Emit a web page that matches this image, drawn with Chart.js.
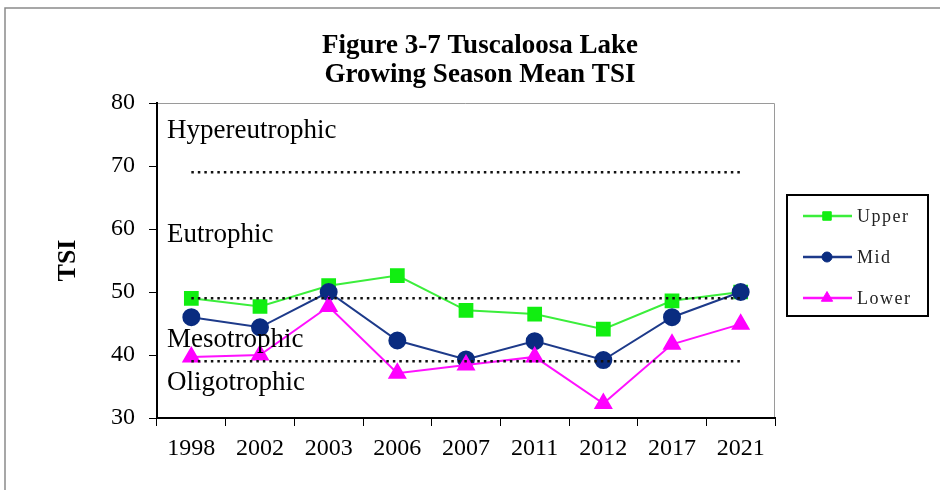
<!DOCTYPE html>
<html>
<head>
<meta charset="utf-8">
<script src="https://cdn.jsdelivr.net/npm/chart.js@4.4.0/dist/chart.umd.min.js"></script>
<style>
  html, body { margin: 0; padding: 0; background: #ffffff; }
  #wrap { width: 940px; height: 490px; }
</style>
</head>
<body>
<div id="wrap"><canvas id="tsiChart" width="940" height="490"></canvas></div>
<script>
// ===========================
// DATA
// ===========================

const years = ['1998', '2002', '2003', '2006', '2007', '2011', '2012', '2017', '2021'];
const upper = [49.0, 47.7, 51.0, 52.6, 47.1, 46.5, 44.1, 48.6, 50.0];
const mid = [46.0, 44.4, 50.0, 42.3, 39.3, 42.2, 39.2, 46.0, 50.0];
const lower = [39.7, 40.0, 47.7, 37.1, 38.4, 39.7, 32.3, 41.7, 44.9];

// trophic state boundaries (dotted lines)
const hyperBound = [69, 69, 69, 69, 69, 69, 69, 69, 69];
const eutroBound = [49, 49, 49, 49, 49, 49, 49, 49, 49];
const mesoBound = [39, 39, 39, 39, 39, 39, 39, 39, 39];

const yTicks = [30, 40, 50, 60, 70, 80];
const zoneLabels = ['Hypereutrophic', 'Eutrophic', 'Mesotrophic', 'Oligotrophic'];
// baseline of each zone label, in TSI units
const zoneLabelValues = [74.4, 57.9, 41.3, 34.4];
const titleLines = ['Figure 3-7 Tuscaloosa Lake', 'Growing Season Mean TSI'];

const SERIF = '"Liberation Serif", "Times New Roman", serif';

// ===========================
// DRAWING EXTRAS
// ===========================

const extrasPlugin = {
    id: 'extras',
    beforeDraw(chart) {
        const c = chart.ctx;
        c.save();
        c.fillStyle = '#ffffff';
        c.fillRect(0, 0, chart.width, chart.height);
        // outer frame
        c.strokeStyle = '#8a8a8a';
        c.lineWidth = 1.5;
        c.beginPath();
        c.moveTo(5, chart.height + 2);
        c.lineTo(5, 8);
        c.lineTo(chart.width + 2, 8);
        c.stroke();
        // plot frame (top + right)
        const a = chart.chartArea;
        c.strokeStyle = '#9a9a9a';
        c.lineWidth = 1;
        c.beginPath();
        c.moveTo(a.left, a.top + 0.5);
        c.lineTo(a.right - 0.5, a.top + 0.5);
        c.lineTo(a.right - 0.5, a.bottom);
        c.stroke();
        c.restore();
    },
    afterDraw(chart) {
        const c = chart.ctx;
        const a = chart.chartArea;
        const yScale = chart.scales.y;
        c.save();

        // title
        c.fillStyle = '#000';
        c.textAlign = 'center';
        c.textBaseline = 'alphabetic';
        c.font = 'bold 27px ' + SERIF;
        c.fillText(titleLines[0], 480, 53);
        c.fillText(titleLines[1], 480, 82);

        // zone labels
        c.textAlign = 'left';
        c.font = '27px ' + SERIF;
        zoneLabels.forEach((txt, i) => {
            c.fillText(txt, a.left + 10, yScale.getPixelForValue(zoneLabelValues[i]));
        });

        // legend
        const lx = 787, ly = 195, lw = 141, lh = 121;
        c.strokeStyle = '#000';
        c.lineWidth = 2;
        c.strokeRect(lx, ly, lw, lh);
        const rows = [216, 257, 298];
        const radii = [6, 5, 6.5];
        c.font = '18px ' + SERIF;
        c.textBaseline = 'middle';
        if ('letterSpacing' in c) c.letterSpacing = '1.5px';
        chart.data.datasets.slice(0, 3).forEach((ds, i) => {
            const y = rows[i];
            c.strokeStyle = ds.borderColor;
            c.lineWidth = 2.5;
            c.beginPath();
            c.moveTo(803, y);
            c.lineTo(852, y);
            c.stroke();
            c.fillStyle = ds.pointBackgroundColor;
            c.strokeStyle = ds.pointBorderColor;
            c.lineWidth = 1;
            Chart.helpers.drawPoint(c, { pointStyle: ds.pointStyle, radius: radii[i], borderWidth: 1, rotation: 0 }, 827, y);
            c.fillStyle = '#222';
            c.fillText(ds.label, 857, y + 1);
        });
        c.restore();
    }
};

// ===========================
// CHART
// ===========================

function dotted(data) {
    return {
        label: '',
        data: data,
        borderColor: '#111',
        borderWidth: 2.5,
        borderDash: [2.5, 4],
        pointRadius: 0,
        fill: false,
        order: 0
    };
}

const ctx = document.getElementById('tsiChart');
new Chart(ctx, {
    type: 'line',
    data: {
        labels: years,
        datasets: [
            {
                label: 'Upper',
                data: upper,
                borderColor: '#3bee3b',
                borderWidth: 2,
                pointStyle: 'rect',
                pointRadius: 9,
                pointBackgroundColor: '#11ee11',
                pointBorderColor: '#11ee11',
                order: 3
            },
            {
                label: 'Mid',
                data: mid,
                borderColor: '#1d3a8a',
                borderWidth: 2,
                pointStyle: 'circle',
                pointRadius: 8,
                pointBackgroundColor: '#0a2c80',
                pointBorderColor: '#0a2c80',
                order: 2
            },
            {
                label: 'Lower',
                data: lower,
                borderColor: '#ff11ff',
                borderWidth: 2,
                pointStyle: 'triangle',
                pointRadius: 9,
                pointBackgroundColor: '#ff00ff',
                pointBorderColor: '#ff00ff',
                order: 1
            },
            dotted(hyperBound),
            dotted(eutroBound),
            dotted(mesoBound)
        ]
    },
    options: {
        responsive: false,
        animation: false,
        layout: { padding: { left: 0, right: 165, top: 103, bottom: 0 } },
        plugins: {
            legend: { display: false },
            title: { display: false },
            tooltip: { enabled: false }
        },
        scales: {
            x: {
                offset: true,
                afterFit: (s) => { s.height = 72; },
                grid: {
                    offset: true,
                    drawOnChartArea: false,
                    drawTicks: true,
                    tickLength: 8,
                    color: '#000'
                },
                border: { display: true, color: '#000', width: 2 },
                ticks: {
                    color: '#000',
                    padding: 8,
                    font: { family: SERIF, size: 24 },
                    maxRotation: 0
                }
            },
            y: {
                min: 30,
                max: 80,
                afterFit: (s) => { s.width = 157; },
                afterBuildTicks: (s) => { s.ticks = yTicks.map(v => ({ value: v })); },
                grid: {
                    drawOnChartArea: false,
                    drawTicks: true,
                    tickLength: 8,
                    color: '#000'
                },
                border: { display: true, color: '#000', width: 2 },
                ticks: {
                    color: '#000',
                    padding: 14,
                    font: { family: SERIF, size: 24 }
                },
                title: {
                    display: true,
                    text: 'TSI',
                    color: '#000',
                    font: { family: SERIF, size: 26, weight: 'bold' },
                    padding: { top: 53, bottom: 0 }
                }
            }
        }
    },
    plugins: [extrasPlugin]
});
</script>
</body>
</html>
